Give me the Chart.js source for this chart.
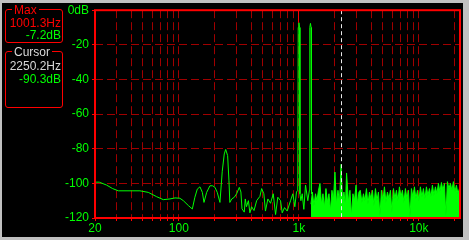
<!DOCTYPE html>
<html>
<head>
<meta charset="utf-8">
<script src="https://cdn.jsdelivr.net/npm/chart.js@4.4.1/dist/chart.umd.min.js"></script>
<style>
  html, body { margin: 0; padding: 0; background: #000; }
  #frame { position: relative; width: 469px; height: 240px; background: #c0c0c0; overflow: hidden; }
  #inner { position: absolute; left: 2px; top: 3px; width: 461px; height: 234px; background: #000; }
  #plot { position: absolute; left: 0; top: 0; }
  .panel { position: absolute; left: 5px; width: 56px; border: 1px solid #ff0000; border-radius: 3px;
           font: 12px 'Liberation Sans', sans-serif; }
  .panel .title { position: absolute; top: -7px; background: #000; padding: 0 2px; line-height: 14px; }
  .panel .row { position: absolute; right: 1px; line-height: 14px; white-space: nowrap; }
</style>
</head>
<body>
<div id="frame">
  <div id="inner"></div>
  <canvas id="plot" width="469" height="240"></canvas>
  <div class="panel" style="top:9px;height:32px;">
    <span class="title" style="left:6px;color:#ff0000;">Max</span>
    <span class="row" id="maxFreq" style="top:6px;color:#ff0000;"></span>
    <span class="row" id="maxDb" style="top:18px;color:#00ff00;"></span>
  </div>
  <div class="panel" style="top:51px;height:55px;">
    <span class="title" style="left:6px;color:#d8d8d8;">Cursor</span>
    <span class="row" id="curFreq" style="top:7px;color:#d8d8d8;"></span>
    <span class="row" id="curDb" style="top:20px;color:#00ff00;"></span>
  </div>
</div>
<script>
'use strict';

// frequency grid (Hz) and which of them get a label
var gridFreqs = [20, 30, 40, 50, 60, 70, 80, 90, 100, 200, 300, 400, 500, 600, 700, 800, 900,
    1000, 2000, 3000, 4000, 5000, 6000, 7000, 8000, 9000, 10000, 20000];
var freqLabels = {20: '20', 100: '100', 1000: '1k', 10000: '10k'};
var dbTicks = [0, -20, -40, -60, -80, -100, -120];

// spectrum below ~1.3 kHz, drawn as a plain trace
var lowFreqs = [20, 21.7, 25, 28, 31.3, 40, 47.4, 55.6, 65.3, 74.2, 84.3, 92.9, 102, 109, 120,
    129.5, 136, 142.5, 150, 157, 162, 170.5, 181.6, 191.4, 200, 209, 220, 230, 239, 245.6,
    255, 261.6, 266, 276, 290, 303, 319, 329, 336, 351, 358, 366, 380, 391, 404,
    423, 445, 474, 490, 511, 527, 552, 581, 612, 640, 668, 704, 727, 760, 800,
    853, 891, 926, 956, 980, 988, 1001.3, 1014, 1022, 1040, 1067, 1101, 1137, 1188, 1225,
    1235, 1250, 1265, 1275];
var lowDb = [-99.3, -99.3, -101, -103, -104.3, -104.3, -104.3, -105.2, -107.7, -109.4, -109, -108.4, -108.6, -110, -112.8,
    -114.8, -108, -103.3, -102, -105.2, -111, -105.2, -101.4, -101.4, -102.3, -105.2, -111, -93, -83, -80.4,
    -84, -98.5, -111, -109, -108, -106, -102.3, -105, -114.7, -116.6, -109, -113.5, -110, -117, -113.5,
    -115.7, -110, -107.5, -103, -106, -116, -109, -111.5, -106, -118, -108, -110, -117, -114, -116,
    -110, -106, -113.5, -105, -104, -10, -7.2, -10, -106, -110, -106, -115, -101, -110, -104,
    -10, -7.6, -10, -106];

// noise floor above ~1.3 kHz, drawn filled
var highFreqs = [1262, 1298, 1337, 1376, 1416, 1458, 1500, 1544, 1589, 1635, 1683, 1732, 1783, 1835, 1888,
    1943, 2000, 2058, 2119, 2181, 2250, 2310, 2377, 2447, 2500, 2592, 2667, 2745, 2825, 2908,
    3000, 3080, 3170, 3250, 3358, 3456, 3557, 3661, 3768, 3878, 3991, 4108, 4228, 4351, 4478,
    4609, 4743, 4882, 5024, 5171, 5322, 5477, 5637, 5802, 5971, 6146, 6325, 6510, 6700, 6895,
    7096, 7304, 7517, 7736, 7962, 8195, 8434, 8680, 8934, 9195, 9463, 9740, 10024, 10317, 10618,
    10928, 11247, 11576, 11914, 12262, 12619, 12988, 13367, 13757, 14159, 14572, 14998, 15436, 15887, 16351,
    16828, 17320, 17825, 18346, 18881, 19433, 20000, 20584, 21185, 21804, 22050];
var highDb = [-112, -105, -113, -106, -110, -104, -100, -112, -106, -114, -103, -111, -106, -116, -104,
    -110, -93.5, -112, -104, -111, -89, -110, -105, -113, -94, -111, -104, -119, -106, -110,
    -101, -112, -105, -104, -111, -106, -110, -103, -112, -105, -109, -104, -113, -103, -110,
    -105, -119, -104, -110, -102, -111, -105, -109, -104, -117, -103, -109, -104, -110, -102,
    -108, -104, -111, -103, -109, -104, -120, -103, -108, -102, -109, -104, -110, -102, -108,
    -103, -109, -102, -107, -103, -108, -101, -107, -102, -106, -100, -105, -99.5, -104, -100,
    -119, -99, -103, -100, -104, -99, -105, -101, -106, -103, -107];

var maxFreq = 1001.3;
var maxDb = -7.2;
var cursorFreq = 2250.2;
var cursorDb = -90.3;

/**
 * Zips two arrays into {x, y} points
 */
var toPoints = function(xs, ys) {
    return xs.map(function(x, i) {
        return {x: x, y: ys[i]};
    });
};

document.getElementById('maxFreq').textContent = maxFreq.toFixed(1) + 'Hz';
document.getElementById('maxDb').textContent = maxDb.toFixed(1) + 'dB';
document.getElementById('curFreq').textContent = cursorFreq.toFixed(1) + 'Hz';
document.getElementById('curDb').textContent = cursorDb.toFixed(1) + 'dB';

/**
 * Red frame round the plot, max marker and the white cursor line
 */
var markersPlugin = {
    id: 'markers',
    afterDatasetsDraw: function(chart) {
        var ctx = chart.ctx;
        var area = chart.chartArea;
        var x = chart.scales.x;
        var y = chart.scales.y;
        ctx.save();
        // cursor
        var cx = Math.round(x.getPixelForValue(cursorFreq)) + 0.5;
        ctx.strokeStyle = '#e8e8e8';
        ctx.lineWidth = 1;
        ctx.setLineDash([4, 3]);
        ctx.beginPath();
        ctx.moveTo(cx, area.top);
        ctx.lineTo(cx, area.bottom);
        ctx.stroke();
        // max marker
        var mx = Math.round(x.getPixelForValue(maxFreq)) - 0.5;
        ctx.setLineDash([]);
        ctx.strokeStyle = '#ff0000';
        ctx.beginPath();
        ctx.moveTo(mx, area.top);
        ctx.lineTo(mx, y.getPixelForValue(maxDb));
        ctx.stroke();
        ctx.restore();
    },
    afterDraw: function(chart) {
        var ctx = chart.ctx;
        var area = chart.chartArea;
        ctx.save();
        ctx.strokeStyle = '#ff0000';
        ctx.lineWidth = 2;
        ctx.strokeRect(area.left, area.top, area.right - area.left, area.bottom - area.top);
        ctx.restore();
    }
};

var tickFont = {family: 'Liberation Sans', size: 12};

var ctx = document.getElementById('plot');
var chart = new Chart(ctx, {
    type: 'line',
    data: {
        datasets: [{
            label: 'spectrum',
            data: toPoints(lowFreqs, lowDb),
            borderColor: '#00ff00',
            borderWidth: 1,
            pointRadius: 0,
            fill: false
        }, {
            label: 'noise',
            data: toPoints(highFreqs, highDb),
            borderColor: '#00ff00',
            backgroundColor: '#00ff00',
            borderWidth: 1,
            pointRadius: 0,
            fill: 'start'
        }]
    },
    options: {
        responsive: false,
        animation: false,
        events: [],
        layout: {padding: {left: 65, right: 9, top: 8, bottom: 0}},
        elements: {line: {tension: 0}},
        plugins: {legend: {display: false}, tooltip: {enabled: false}},
        scales: {
            x: {
                type: 'logarithmic',
                min: 20,
                max: 22050,
                afterBuildTicks: function(scale) {
                    scale.ticks = gridFreqs.map(function(v) { return {value: v}; });
                },
                afterFit: function(scale) { scale.height = 22; },
                grid: {color: '#a00000', lineWidth: 1, drawTicks: true, tickLength: 3, tickColor: '#ff0000'},
                border: {display: false, dash: [8, 4]},
                ticks: {
                    autoSkip: false,
                    maxRotation: 0,
                    padding: 0,
                    color: '#00ff00',
                    font: tickFont,
                    callback: function(value) { return freqLabels[value] || ''; }
                }
            },
            y: {
                min: -120,
                max: 0,
                afterBuildTicks: function(scale) {
                    scale.ticks = dbTicks.map(function(v) { return {value: v}; });
                },
                afterFit: function(scale) { scale.width = 30; },
                grid: {color: '#a00000', lineWidth: 1, drawTicks: true, tickLength: 3, tickColor: '#ff0000'},
                border: {display: false, dash: [8, 4]},
                ticks: {
                    padding: 3,
                    color: '#00ff00',
                    font: tickFont,
                    callback: function(value) { return value === 0 ? '0dB' : String(value); }
                }
            }
        }
    },
    plugins: [markersPlugin]
});
</script>
</body>
</html>
